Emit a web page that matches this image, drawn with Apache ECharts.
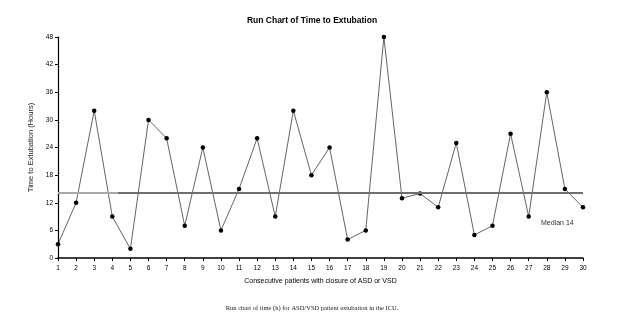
<!DOCTYPE html>
<html><head><meta charset="utf-8">
<script src="https://cdn.jsdelivr.net/npm/echarts@6/dist/echarts.min.js"></script>
<style>html,body{margin:0;padding:0;background:#fff}#c{width:624px;height:328px}</style>
</head><body><div id="c"></div>
<script>
const patients = [1,2,3,4,5,6,7,8,9,10,11,12,13,14,15,16,17,18,19,20,21,22,23,24,25,26,27,28,29,30];
const hours = [3,12,32,9,2,30,26,7,24,6,15,26,9,32,18,24,4,6,48,13,14,11,25,5,7,27,9,36,15,11];
const yTicks = [0,6,12,18,24,30,36,42,48];
const median = 14.2;
const medianLabel = 'Median 14';
const medianSplit = 4.3;

const narrow = '"Liberation Sans Narrow","Arial Narrow","Liberation Sans",Arial,sans-serif';
const chart = echarts.init(document.getElementById('c'), null, {renderer:'canvas'});
chart.setOption({
  animation:false,
  backgroundColor:'#fff',
  title:{text:'Run Chart of Time to Extubation', left:'center', top:11,
    textStyle:{fontFamily:narrow, fontSize:8.5, fontWeight:'bold', color:'#000'}},
  grid:{left:58, right:41, top:37, bottom:70, containLabel:false},
  xAxis:{type:'value', min:1, max:30, interval:1,
    name:'Consecutive patients with closure of ASD or VSD', nameLocation:'middle', nameGap:20,
    nameTextStyle:{fontFamily:narrow, fontSize:7, color:'#000'},
    axisLine:{lineStyle:{color:'#000', width:1.5}},
    axisTick:{length:3, lineStyle:{color:'#000'}},
    axisLabel:{fontFamily:narrow, fontSize:6.5, color:'#000', margin:7},
    splitLine:{show:false}},
  yAxis:{type:'value', min:yTicks[0], max:yTicks[yTicks.length-1], interval:6,
    name:'Time to Extubation (Hours)', nameLocation:'middle', nameGap:20,
    nameTextStyle:{fontFamily:'"Liberation Sans",Arial,sans-serif', fontSize:7.5, color:'#222'},
    axisLine:{show:true, lineStyle:{color:'#000', width:1.2}},
    axisTick:{show:true, length:3, lineStyle:{color:'#000'}},
    axisLabel:{fontFamily:narrow, fontSize:6.5, color:'#000', margin:5},
    splitLine:{show:false}},
  series:[{
    type:'line',
    data: patients.map((p,i)=>[p, hours[i]]),
    symbol:'circle', symbolSize:4.5,
    itemStyle:{color:'#000'},
    lineStyle:{color:'#222', width:0.7},
    z:3,
    markLine:{silent:true, symbol:'none', label:{show:false},
      data:[
        [{coord:[patients[0], median], lineStyle:{color:'#a8a8a8', width:2, type:'solid'}}, {coord:[medianSplit, median]}],
        [{coord:[medianSplit, median], lineStyle:{color:'#6e6e6e', width:2, type:'solid'}}, {coord:[patients[patients.length-1], median]}]
      ]}
  }],
  graphic:[
    {type:'text', left:541, top:220, style:{text:medianLabel, font:'7px "Liberation Sans Narrow","Liberation Sans",sans-serif', fill:'#333'}},
    {type:'text', left:'center', top:305, style:{text:'Run chart of time (h) for ASD/VSD patient extubation in the ICU.', font:'6.5px "Liberation Serif","Times New Roman",serif', fill:'#222'}}
  ]
});
</script></body></html>
